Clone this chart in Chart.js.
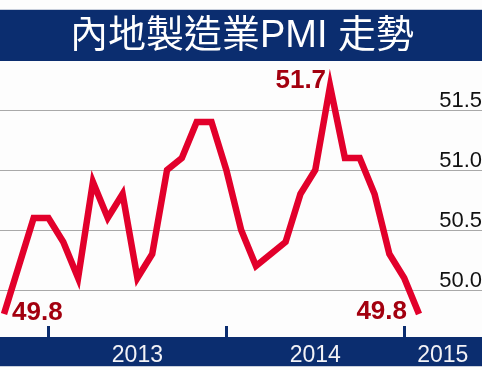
<!DOCTYPE html>
<html>
<head>
<meta charset="utf-8">
<script src="https://cdn.jsdelivr.net/npm/chart.js@4"></script>
<style>
  html, body { margin: 0; padding: 0; background: #fdfdfd; }
  #wrap { width: 482px; height: 370px; }
</style>
</head>
<body>
<div id="wrap"><canvas id="chart" width="482" height="370"></canvas></div>
<script>
// monthly PMI, Sep 2012 .. Jan 2015
const months = ['2012-09', '2012-10', '2012-11', '2012-12',
    '2013-01', '2013-02', '2013-03', '2013-04', '2013-05', '2013-06',
    '2013-07', '2013-08', '2013-09', '2013-10', '2013-11', '2013-12',
    '2014-01', '2014-02', '2014-03', '2014-04', '2014-05', '2014-06',
    '2014-07', '2014-08', '2014-09', '2014-10', '2014-11', '2014-12',
    '2015-01'];
const pmi = [49.8, 50.2, 50.6, 50.6,
    50.4, 50.1, 50.9, 50.6, 50.8, 50.1,
    50.3, 51.0, 51.1, 51.4, 51.4, 51.0,
    50.5, 50.2, 50.3, 50.4, 50.8, 51.0,
    51.7, 51.1, 51.1, 50.8, 50.3, 50.1,
    49.8];
const yTicks = [50.0, 50.5, 51.0, 51.5];
const yearLabels = ['2013', '2014', '2015'];
const yearLabelAt = [9, 21, 29.6];
const yearTickAt = [3, 15, 27];
const labelledPoints = [0, 22, 28];
const title = '內地製造業PMI 走勢';

const navy = '#0b2d6f';

const decor = {
    id: 'decor',
    beforeDraw(chart) {
        const ctx = chart.ctx;
        const y = chart.scales.y;
        const x = chart.scales.x;
        ctx.save();
        // title bar
        ctx.fillStyle = '#c8cfdc';
        ctx.fillRect(0, 9, 482, 1);
        ctx.fillStyle = navy;
        ctx.fillRect(0, 10, 482, 51);
        ctx.fillStyle = '#ffffff';
        ctx.font = '38px "Liberation Sans", "Noto Sans CJK TC", sans-serif';
        ctx.textAlign = 'center';
        ctx.textBaseline = 'middle';
        ctx.fillText(title, 242, 37);
        // grid lines + right labels
        ctx.fillStyle = '#a9a9a9';
        yTicks.forEach(v => {
            const py = Math.round(y.getPixelForValue(v));
            ctx.fillRect(0, py, 482, 1);
        });
        ctx.fillStyle = '#111111';
        ctx.font = '22px "Liberation Sans", Arial, sans-serif';
        ctx.textAlign = 'right';
        ctx.textBaseline = 'alphabetic';
        yTicks.forEach(v => {
            const py = Math.round(y.getPixelForValue(v));
            ctx.fillText(v.toFixed(1), 482, py - 3);
        });
        // bottom bar
        ctx.fillStyle = navy;
        ctx.fillRect(0, 337, 482, 29);
        ctx.fillStyle = '#c8cfdc';
        ctx.fillRect(0, 366, 482, 1);
        ctx.fillStyle = navy;
        yearTickAt.forEach(i => {
            const px = Math.round(x.getPixelForValue(i));
            ctx.fillRect(px - 1, 326, 3, 11);
        });
        ctx.fillStyle = '#f2f2f6';
        ctx.font = '23px "Liberation Sans", Arial, sans-serif';
        ctx.textAlign = 'center';
        yearLabels.forEach((t, k) => {
            ctx.fillText(t, x.getPixelForValue(yearLabelAt[k]), 362);
        });
        ctx.restore();
    },
    afterDatasetsDraw(chart) {
        const ctx = chart.ctx;
        const pts = chart.getDatasetMeta(0).data;
        ctx.save();
        ctx.fillStyle = '#a3000f';
        ctx.font = 'bold 26px "Liberation Sans", Arial, sans-serif';
        ctx.textBaseline = 'middle';
        labelledPoints.forEach((i, k) => {
            const p = pts[i];
            const txt = pmi[i].toFixed(1);
            if (k === 0) {
                ctx.textAlign = 'left';
                ctx.fillText(txt, p.x + 8, p.y - 1);
            } else if (k === 1) {
                ctx.textAlign = 'right';
                ctx.fillText(txt, p.x - 4, p.y - 5);
            } else {
                ctx.textAlign = 'right';
                ctx.fillText(txt, p.x - 12, p.y - 2);
            }
        });
        ctx.restore();
    }
};

const data = {
    datasets: [{
        data: pmi.map((v, i) => ({ x: i, y: v })),
        borderColor: '#e2002b',
        borderWidth: 6.5,
        pointRadius: 0,
        tension: 0,
        fill: false,
        clip: false,
    }]
};

const config = {
    type: 'line',
    data: data,
    options: {
        responsive: false,
        animation: false,
        layout: {
            padding: { top: 61, bottom: 33, left: 0, right: 0 }
        },
        scales: {
            x: {
                type: 'linear',
                min: -0.27,
                max: 32.25,
                display: false,
            },
            y: {
                min: 49.608,
                max: 51.908,
                display: false,
            },
        },
        plugins: {
            legend: { display: false },
            tooltip: { enabled: false },
            title: { display: false },
        }
    },
    plugins: [decor]
};

var myChart = new Chart(
    document.getElementById('chart').getContext('2d'),
    config
);
</script>
</body>
</html>
